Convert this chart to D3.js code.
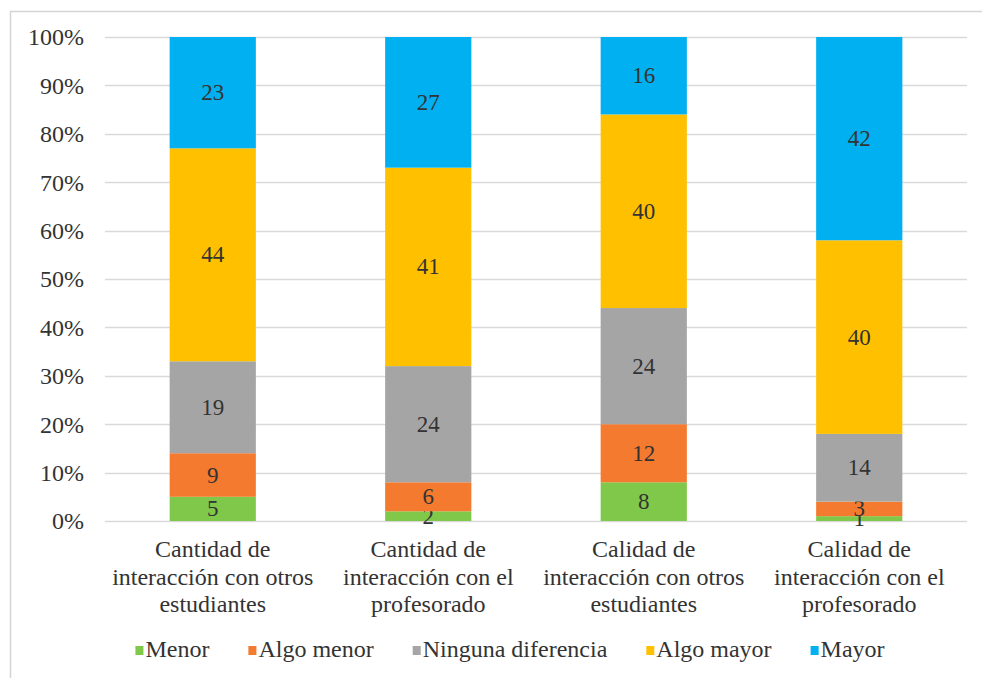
<!DOCTYPE html>
<html>
<head>
<meta charset="utf-8">
<script src="https://cdn.jsdelivr.net/npm/d3@7"></script>
<style>
  body { margin: 0; background: #fff; }
</style>
</head>
<body>
<div id="chart"></div>
<script>
// categories, wrapped the way the original shows them
const categories = [
  "Cantidad de|interacción con otros|estudiantes",
  "Cantidad de|interacción con el|profesorado",
  "Calidad de|interacción con otros|estudiantes",
  "Calidad de|interacción con el|profesorado",
];
const seriesNames = ["Menor", "Algo menor", "Ninguna diferencia", "Algo mayor", "Mayor"];
const menor = [5, 2, 8, 1];
const algoMenor = [9, 6, 12, 3];
const ninguna = [19, 24, 24, 14];
const algoMayor = [44, 41, 40, 40];
const mayor = [23, 27, 16, 42];
const yTicks = [0, 10, 20, 30, 40, 50, 60, 70, 80, 90, 100];

const colors = ["#80c84a", "#f37a2e", "#a5a5a5", "#ffc000", "#00b0f0"];
const FONT = '"Liberation Serif", "Times New Roman", serif';
const textColor = "#333333";

const width = 982, height = 678;
const margin = { top: 37, right: 15, bottom: 157, left: 105 };

const svg = d3.select("#chart").append("svg")
  .attr("width", width)
  .attr("height", height)
  .style("font-family", FONT);

// outer frame (only left/top edges visible in the crop)
svg.append("rect")
  .attr("x", 10.5).attr("y", 11.5)
  .attr("width", 1000).attr("height", 700)
  .attr("fill", "none")
  .attr("stroke", "#d4d4d4")
  .attr("stroke-width", 1.5);

const rows = categories.map((c, i) => ({
  cat: c,
  "Menor": menor[i],
  "Algo menor": algoMenor[i],
  "Ninguna diferencia": ninguna[i],
  "Algo mayor": algoMayor[i],
  "Mayor": mayor[i],
}));

const x = d3.scaleBand()
  .domain(categories)
  .range([margin.left, width - margin.right])
  .paddingInner(0.6)
  .paddingOuter(0.3);

const y = d3.scaleLinear()
  .domain([0, 100])
  .range([height - margin.bottom, margin.top]);

// gridlines
svg.append("g")
  .selectAll("line")
  .data(yTicks)
  .join("line")
  .attr("x1", margin.left)
  .attr("x2", width - margin.right)
  .attr("y1", (d) => Math.round(y(d)) + 0.5)
  .attr("y2", (d) => Math.round(y(d)) + 0.5)
  .attr("stroke", "#d9d9d9")
  .attr("stroke-width", 1.3);

// y axis labels
const yAxis = svg.append("g")
  .attr("transform", `translate(${margin.left - 21},0)`)
  .call(d3.axisLeft(y).tickValues(yTicks).tickFormat((d) => d + "%").tickSize(0).tickPadding(0));
yAxis.attr("font-family", null).attr("font-size", null);
yAxis.select(".domain").remove();
yAxis.selectAll("text")
  .attr("font-size", 24)
  .style("font-family", FONT)
  .attr("dy", "0.33em")
  .attr("fill", textColor);

const stack = d3.stack().keys(seriesNames);
const layers = stack(rows);

const groups = svg.append("g")
  .selectAll("g")
  .data(layers)
  .join("g")
  .attr("fill", (d, i) => colors[i]);

groups.selectAll("rect")
  .data((d) => d)
  .join("rect")
  .attr("x", (d) => x(d.data.cat))
  .attr("width", x.bandwidth())
  .attr("y", (d) => y(d[1]))
  .attr("height", (d) => y(d[0]) - y(d[1]));

// value labels
groups.selectAll("text")
  .data((d) => d.map((v) => ({ v, key: d.key })))
  .join("text")
  .attr("x", (d) => x(d.v.data.cat) + x.bandwidth() / 2)
  .attr("y", (d) => y((d.v[0] + d.v[1]) / 2))
  .attr("dy", "0.33em")
  .attr("text-anchor", "middle")
  .attr("font-size", 23)
  .attr("fill", textColor)
  .text((d) => d.v.data[d.key]);

// category labels
const xAxis = svg.append("g");
categories.forEach((c) => {
  const t = xAxis.append("text")
    .attr("text-anchor", "middle")
    .attr("font-size", 24)
    .attr("fill", textColor)
    .attr("transform", `translate(${x(c) + x.bandwidth() / 2},${y(0) + 36})`);
  c.split("|").forEach((line, i) => {
    t.append("tspan")
      .attr("x", 0)
      .attr("dy", i === 0 ? 0 : 27.5)
      .text(line);
  });
});

// legend
const legend = svg.append("g");
const gap = 39;
let lx = 0;
seriesNames.forEach((name, i) => {
  const g = legend.append("g").attr("transform", `translate(${lx},0)`);
  g.append("rect")
    .attr("x", 0).attr("y", -11)
    .attr("width", 8).attr("height", 9)
    .attr("fill", colors[i]);
  const t = g.append("text")
    .attr("x", 10)
    .attr("y", 0)
    .attr("font-size", 24)
    .attr("fill", textColor)
    .text(name);
  const w = t.node().getComputedTextLength();
  lx += 10 + w + gap;
});
const totalW = lx - gap;
legend.attr("transform", `translate(${510 - totalW / 2},657)`);
</script>
</body>
</html>
